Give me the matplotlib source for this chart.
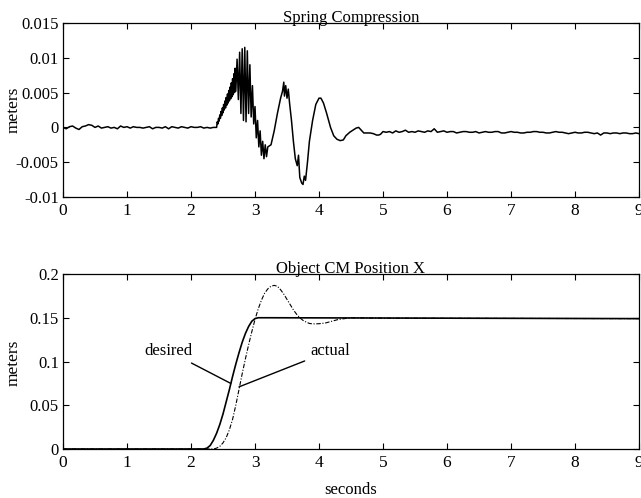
import matplotlib
matplotlib.use("Agg")
import matplotlib.pyplot as plt

plt.rcParams['font.family'] = ['Liberation Serif', 'DejaVu Serif']

# ---------------- data: spring compression (m) ----------------
spring_t_base = [0.00, 0.05, 0.10, 0.15, 0.20, 0.25, 0.30, 0.35, 0.40, 0.45,
                 0.50, 0.55, 0.60, 0.65, 0.70, 0.75, 0.80, 0.85, 0.90, 0.95,
                 1.00, 1.05, 1.10, 1.15, 1.20, 1.25, 1.30, 1.35, 1.40, 1.45,
                 1.50, 1.55, 1.60, 1.65, 1.70, 1.75, 1.80, 1.85, 1.90, 1.95,
                 2.00, 2.05, 2.10, 2.15, 2.20, 2.25, 2.30, 2.35]
spring_y_base = [0.0000, -0.0002, 0.0001, 0.0002, -0.0001, -0.0003, 0.0001, 0.0002, 0.0004, 0.0003,
                 0.0000, 0.0002, -0.0001, 0.0000, 0.0001, -0.0001, 0.0000, -0.0002, 0.0002, 0.0000,
                 0.0001, -0.0001, 0.0001, 0.0000, 0.0000, -0.0001, 0.0000, 0.0001, -0.0002, 0.0000,
                 0.0000, -0.0001, 0.0001, -0.0002, 0.0001, 0.0000, -0.0001, 0.0001, 0.0000, -0.0001,
                 0.0001, 0.0000, 0.0000, 0.0001, -0.0001, 0.0000, -0.0001, 0.0000]

spring_t_impact = [2.40, 2.41, 2.42, 2.43, 2.44, 2.45, 2.46, 2.47, 2.48, 2.49,
                   2.50, 2.51, 2.52, 2.53, 2.54, 2.55, 2.56, 2.57, 2.58, 2.59,
                   2.60, 2.61, 2.62, 2.63, 2.64, 2.65, 2.66, 2.67, 2.68, 2.69,
                   2.70, 2.72, 2.74, 2.76, 2.78, 2.80, 2.82, 2.84, 2.86, 2.88,
                   2.90, 2.92, 2.94, 2.96, 2.98, 3.00, 3.02, 3.04, 3.06, 3.08,
                   3.10, 3.12, 3.14, 3.16, 3.18, 3.20, 3.25]
spring_y_impact = [0.0000, 0.0008, 0.0005, 0.0013, 0.0009, 0.0018, 0.0013, 0.0023, 0.0017, 0.0028,
                   0.0021, 0.0033, 0.0025, 0.0038, 0.0028, 0.0043, 0.0032, 0.0048, 0.0035, 0.0053,
                   0.0038, 0.0058, 0.0041, 0.0064, 0.0044, 0.0070, 0.0047, 0.0077, 0.0050, 0.0085,
                   0.0052, 0.0098, 0.0040, 0.0108, 0.0020, 0.0113, 0.0010, 0.0115, 0.0008, 0.0110,
                   0.0020, 0.0090, 0.0015, 0.0060, 0.0005, 0.0030, -0.0015, 0.0010, -0.0028, -0.0005,
                   -0.0040, -0.0020, -0.0045, -0.0025, -0.0042, -0.0028, -0.0025]

spring_t_swing = [3.30, 3.35, 3.40, 3.43, 3.45, 3.46, 3.48, 3.50, 3.52, 3.54,
                  3.57, 3.60, 3.63, 3.66, 3.68, 3.70, 3.73, 3.75, 3.77, 3.79,
                  3.82, 3.85, 3.90, 3.95, 4.00, 4.03, 4.07, 4.12, 4.18, 4.23,
                  4.28, 4.33, 4.38, 4.42, 4.48, 4.53, 4.58, 4.62, 4.66, 4.70,
                  4.75, 4.80, 4.85, 4.90, 4.93, 4.96]
spring_y_swing = [-0.0005, 0.0020, 0.0042, 0.0052, 0.0065, 0.0045, 0.0060, 0.0042, 0.0055, 0.0035,
                  0.0010, -0.0020, -0.0045, -0.0055, -0.0040, -0.0072, -0.0080, -0.0082, -0.0070, -0.0076,
                  -0.0050, -0.0020, 0.0010, 0.0033, 0.0042, 0.0042, 0.0035, 0.0020, 0.0000, -0.0012,
                  -0.0017, -0.0019, -0.0018, -0.0012, -0.0007, -0.0004, -0.0001, 0.0000, -0.0004, -0.0008,
                  -0.0008, -0.0008, -0.0009, -0.0011, -0.0011, -0.0010]

spring_t_tail = [5.00, 5.05, 5.10, 5.15, 5.20, 5.25, 5.30, 5.35, 5.40, 5.45,
                 5.50, 5.55, 5.60, 5.65, 5.70, 5.75, 5.80, 5.85, 5.90, 5.95,
                 6.00, 6.05, 6.10, 6.15, 6.20, 6.25, 6.30, 6.35, 6.40, 6.45,
                 6.50, 6.55, 6.60, 6.65, 6.70, 6.75, 6.80, 6.85, 6.90, 6.95,
                 7.00, 7.05, 7.10, 7.15, 7.20, 7.25, 7.30, 7.35, 7.40, 7.45,
                 7.50, 7.55, 7.60, 7.65, 7.70, 7.75, 7.80, 7.85, 7.90, 7.95,
                 8.00, 8.05, 8.10, 8.15, 8.20, 8.25, 8.30, 8.35, 8.40, 8.45,
                 8.50, 8.55, 8.60, 8.65, 8.70, 8.75, 8.80, 8.85, 8.90, 8.95, 9.00]
spring_y_tail = [-0.0006, -0.0007, -0.0006, -0.0008, -0.0005, -0.0007, -0.0006, -0.0004, -0.0007, -0.0006,
                 -0.0007, -0.0005, -0.0006, -0.0007, -0.0005, -0.0006, -0.0002, -0.0007, -0.0006, -0.0005,
                 -0.0007, -0.0006, -0.0006, -0.0008, -0.0007, -0.0006, -0.0006, -0.0007, -0.0007, -0.0006,
                 -0.0008, -0.0007, -0.0006, -0.0007, -0.0007, -0.0006, -0.0006, -0.0008, -0.0008, -0.0007,
                 -0.0006, -0.0007, -0.0007, -0.0008, -0.0008, -0.0007, -0.0007, -0.0006, -0.0006, -0.0007,
                 -0.0007, -0.0008, -0.0008, -0.0007, -0.0006, -0.0007, -0.0007, -0.0008, -0.0009, -0.0008,
                 -0.0007, -0.0008, -0.0008, -0.0007, -0.0007, -0.0008, -0.0009, -0.0008, -0.0011, -0.0008,
                 -0.0008, -0.0009, -0.0008, -0.0008, -0.0009, -0.0008, -0.0008, -0.0009, -0.0009, -0.0008, -0.0009]

spring_t = spring_t_base + spring_t_impact + spring_t_swing + spring_t_tail
spring_y = spring_y_base + spring_y_impact + spring_y_swing + spring_y_tail

# ---------------- data: object CM position X (m) ----------------
desired_t = [0.0, 2.20, 2.25, 2.30, 2.35, 2.40, 2.45, 2.50, 2.55, 2.60, 2.65, 2.70,
             2.75, 2.80, 2.85, 2.90, 2.95, 3.00, 3.05, 3.10, 3.20, 9.0]
desired_y = [0.0, 0.0, 0.001, 0.004, 0.010, 0.018, 0.028, 0.040, 0.054, 0.068, 0.083, 0.097,
             0.110, 0.122, 0.132, 0.140, 0.146, 0.149, 0.150, 0.150, 0.150, 0.149]

actual_t = [0.0, 2.35, 2.40, 2.45, 2.50, 2.55, 2.60, 2.65, 2.70, 2.75, 2.80, 2.85, 2.90,
            2.95, 3.00, 3.05, 3.10, 3.15, 3.20, 3.25, 3.30, 3.35, 3.40, 3.45, 3.50,
            3.55, 3.60, 3.65, 3.70, 3.75, 3.80, 3.85, 3.90, 3.95, 4.00, 4.10, 4.20,
            4.30, 4.40, 4.50, 5.00, 9.0]
actual_y = [0.0, 0.0, 0.001, 0.003, 0.007, 0.013, 0.022, 0.034, 0.050, 0.068, 0.086, 0.103, 0.119,
            0.134, 0.148, 0.160, 0.170, 0.178, 0.183, 0.186, 0.187, 0.186, 0.182, 0.177, 0.171,
            0.165, 0.159, 0.154, 0.150, 0.147, 0.145, 0.1435, 0.143, 0.143, 0.1432, 0.144, 0.146,
            0.148, 0.149, 0.150, 0.1495, 0.149]

xticks = [0, 1, 2, 3, 4, 5, 6, 7, 8, 9]
spring_yticks = [-0.01, -0.005, 0, 0.005, 0.01, 0.015]
spring_ylabels = ['-0.01', '-0.005', '0', '0.005', '0.01', '0.015']
pos_yticks = [0, 0.05, 0.1, 0.15, 0.2]
pos_ylabels = ['0', '0.05', '0.1', '0.15', '0.2']

# ---------------- figure ----------------
fig = plt.figure(figsize=(6.41, 4.98), dpi=100)
L, R = 63 / 641, 639 / 641
ax1 = fig.add_axes([L, 1 - 197 / 498, R - L, 174 / 498])
ax2 = fig.add_axes([L, 1 - 449 / 498, R - L, 175 / 498])

ax1.plot(spring_t, spring_y, color='black', lw=1.1)
ax1.set_xlim(0, 9)
ax1.set_ylim(-0.01, 0.015)
ax1.set_yticks(spring_yticks)
ax1.set_yticklabels(spring_ylabels)
ax1.set_title('Spring Compression', fontsize=12, pad=1)
ax1.set_ylabel('meters', fontsize=12.5, va='center')
ax1.yaxis.set_label_coords(-0.086, 0.5)

ax2.plot(desired_t, desired_y, color='black', lw=1.2)
ax2.plot(actual_t, actual_y, color='black', lw=0.8, linestyle=(0, (4, 1.5, 1, 1.5)))
ax2.set_xlim(0, 9)
ax2.set_ylim(0, 0.2)
ax2.set_yticks(pos_yticks)
ax2.set_yticklabels(pos_ylabels)
ax2.set_title('Object CM Position X', fontsize=12, pad=1)
ax2.set_ylabel('meters', fontsize=12.5, va='center')
ax2.yaxis.set_label_coords(-0.086, 0.49)
ax2.set_xlabel('seconds', fontsize=12, labelpad=8)

ax2.annotate('desired', xy=(2.62, 0.075), xytext=(2.02, 0.112),
             fontsize=12, ha='right', va='center',
             arrowprops=dict(arrowstyle='-', color='black', lw=1.0, shrinkA=2, shrinkB=0))
ax2.annotate('actual', xy=(2.75, 0.071), xytext=(3.86, 0.112),
             fontsize=12, ha='left', va='center',
             arrowprops=dict(arrowstyle='-', color='black', lw=1.0, shrinkA=2, shrinkB=0))

for ax in (ax1, ax2):
    ax.set_xticks(xticks)
    ax.tick_params(direction='in', top=True, right=True, length=4, width=0.8,
                   labelsize=12, pad=3)
    ax.tick_params(axis='x', labelsize=12.5, pad=4)
    for s in ax.spines.values():
        s.set_linewidth(0.9)

fig.savefig('out.png', dpi=100)
